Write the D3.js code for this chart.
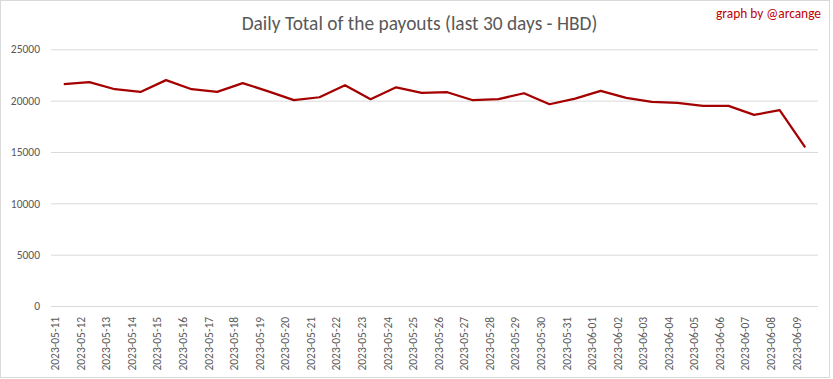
<!DOCTYPE html>
<html><head><meta charset="utf-8">
<script src="https://cdn.jsdelivr.net/npm/d3@7"></script>
<style>body{margin:0;background:#fff}svg{display:block}</style>
</head><body>
<svg id="c" width="833" height="379"></svg>
<script>
const dates = ["2023-05-11","2023-05-12","2023-05-13","2023-05-14","2023-05-15","2023-05-16","2023-05-17","2023-05-18","2023-05-19","2023-05-20","2023-05-21","2023-05-22","2023-05-23","2023-05-24","2023-05-25","2023-05-26","2023-05-27","2023-05-28","2023-05-29","2023-05-30","2023-05-31","2023-06-01","2023-06-02","2023-06-03","2023-06-04","2023-06-05","2023-06-06","2023-06-07","2023-06-08","2023-06-09"];
const payouts = [21600,21800,21110,20850,22000,21110,20850,21700,20900,20050,20330,21500,20140,21300,20750,20820,20040,20140,20720,19650,20200,20950,20270,19880,19780,19490,19490,18610,19070,15440];
const yTicks = [0,5000,10000,15000,20000,25000];
const title = "Daily Total of the payouts (last 30 days - HBD)";
const credit = "graph by @arcange";

const svg = d3.select("#c");
const W = 833, H = 379;
const m = {left:51, right:15, top:49, bottom:73};
svg.append("rect").attr("x",0.5).attr("y",0.5).attr("width",829).attr("height",377)
  .attr("fill","#fff").attr("stroke","#d9d9d9");

const x = d3.scaleBand().domain(dates).range([m.left, W - m.right]);
const y = d3.scaleLinear().domain([0,25000]).range([306, 49.3]);

const font = "Calibri, Carlito, 'Open Sans', sans-serif";
const yAxis = svg.append("g").attr("transform",`translate(${m.left},0)`)
  .call(d3.axisLeft(y).tickValues(yTicks).tickSize(-(W - m.right - m.left)).tickPadding(11).tickFormat(d3.format("d")));
yAxis.select(".domain").remove();
yAxis.selectAll("line").attr("stroke","#d9d9d9").attr("stroke-width",1);
yAxis.selectAll("text").attr("fill","#595959").style("font-family",font).style("font-size","11.5px");

const xAxis = svg.append("g").attr("transform",`translate(0,306)`)
  .call(d3.axisBottom(x).tickSize(0).tickPadding(8));
xAxis.select(".domain").remove();
xAxis.selectAll("text").attr("fill","#595959").style("font-family",font).style("font-size","11.5px")
  .attr("transform","rotate(-90)").attr("text-anchor","end").attr("dx","-0.6em").attr("dy","-0.4em").attr("y",0).attr("x",-4);

const line = d3.line().x((d,i)=>x(dates[i]) + x.bandwidth()/2).y(d=>y(d));
svg.append("path").datum(payouts).attr("d",line).attr("fill","none")
  .attr("stroke","#a50000").attr("stroke-width",2.25).attr("stroke-linejoin","round");

svg.append("text").attr("x",419.5).attr("y",29.5).attr("text-anchor","middle")
  .attr("fill","#595959").style("font-family",font).style("font-size","19.4px").text(title);
svg.append("text").attr("x",821).attr("y",18).attr("text-anchor","end")
  .attr("fill","#c00000").style("font-family",font).style("font-size","13.4px").text(credit);
</script>
</body></html>
